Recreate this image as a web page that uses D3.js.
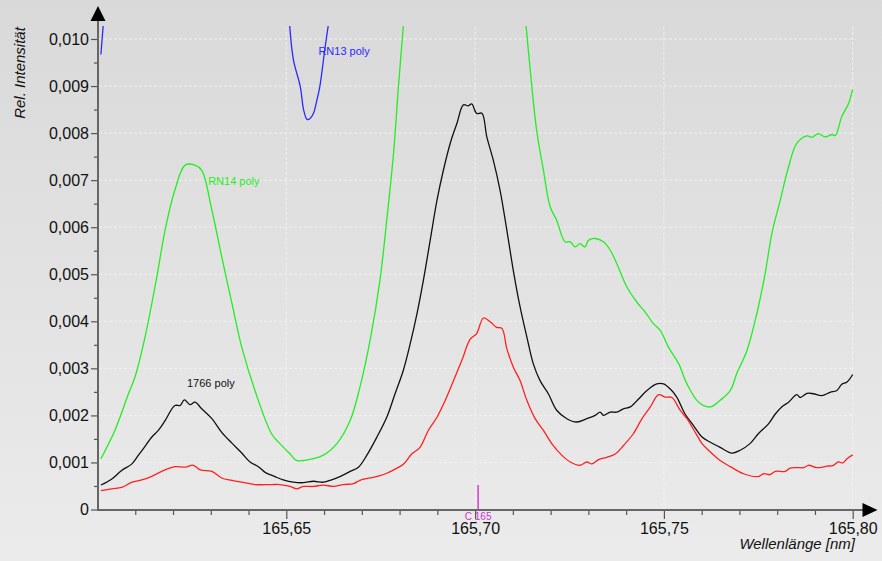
<!DOCTYPE html>
<html><head><meta charset="utf-8">
<script src="https://cdn.jsdelivr.net/npm/d3@7"></script>
<style>html,body{margin:0;padding:0;background:#e0e0e0;}svg{display:block;font-family:"Liberation Sans",Arial,sans-serif;}</style>
</head><body><svg id="c" width="882" height="561"></svg>
<script>
// ---- data (wavelength in nm, relative intensity) ----
const xTicks = [165.65, 165.70, 165.75, 165.80];
const xMinorTicks = [165.61,165.62,165.63,165.64,165.66,165.67,165.68,165.69,165.71,165.72,165.73,165.74,165.76,165.77,165.78,165.79];
const yTicks = [0,0.001,0.002,0.003,0.004,0.005,0.006,0.007,0.008,0.009,0.010];
const yMinorTicks = [0.0005,0.0015,0.0025,0.0035,0.0045,0.0055,0.0065,0.0075,0.0085,0.0095];

const rn13Wl  = [165.6009,165.6015,165.6300,165.6509,165.6519,165.6537,165.6546,165.6555,165.6563,165.6572,165.6581,165.6589,165.6603,165.6611];
const rn13Val = [0.00967,0.01028,null,0.01028,0.00955,0.00899,0.00849,0.00829,0.00831,0.00842,0.00870,0.00900,0.00984,0.01028];

const rn14Wl  = [165.6009,165.6046,165.6082,165.6099,165.6126,165.6157,165.6179,165.6205,165.6232,165.6258,165.6276,165.6303,165.6329,165.6356,165.6382,165.6417,165.6461,165.6483,165.6510,165.6528,165.6571,165.6597,165.6634,165.6669,165.6695,165.6722,165.6748,165.6766,165.6784,165.6797,165.6810,165.6970,165.7135,165.7146,165.7163,165.7181,165.7199,165.7216,165.7238,165.7252,165.7265,165.7278,165.7291,165.7300,165.7318,165.7340,165.7358,165.7375,165.7402,165.7428,165.7450,165.7472,165.7490,165.7512,165.7539,165.7561,165.7592,165.7623,165.7649,165.7676,165.7693,165.7720,165.7746,165.7768,165.7786,165.7808,165.7830,165.7852,165.7879,165.7892,165.7909,165.7927,165.7945,165.7954,165.7971,165.7989,165.8000];
const rn14Val = [0.00108,0.00168,0.00246,0.00281,0.00367,0.00494,0.00594,0.00679,0.00732,0.00732,0.00721,0.00636,0.00537,0.00438,0.00345,0.00253,0.00161,0.00140,0.00118,0.00104,0.00108,0.00115,0.00140,0.00189,0.00260,0.00360,0.00487,0.00615,0.00757,0.00899,0.01028,null,0.01028,0.00934,0.00806,0.00721,0.00643,0.00615,0.00569,0.00569,0.00558,0.00565,0.00558,0.00572,0.00576,0.00569,0.00551,0.00523,0.00473,0.00441,0.00420,0.00395,0.00381,0.00345,0.00310,0.00267,0.00228,0.00218,0.00232,0.00253,0.00289,0.00338,0.00416,0.00501,0.00587,0.00657,0.00728,0.00778,0.00794,0.00791,0.00799,0.00792,0.00797,0.00795,0.00835,0.00863,0.00893];

const s1766Wl  = [165.6009,165.6038,165.6064,165.6091,165.6108,165.6121,165.6144,165.6161,165.6179,165.6205,165.6219,165.6230,165.6245,165.6258,165.6276,165.6303,165.6329,165.6356,165.6382,165.6404,165.6426,165.6444,165.6470,165.6492,165.6519,165.6545,165.6572,165.6598,165.6620,165.6642,165.6669,165.6691,165.6713,165.6740,165.6766,165.6788,165.6810,165.6828,165.6846,165.6863,165.6881,165.6899,165.6916,165.6934,165.6952,165.6969,165.6982,165.6991,165.7004,165.7018,165.7031,165.7048,165.7066,165.7084,165.7101,165.7119,165.7137,165.7154,165.7172,165.7194,165.7216,165.7243,165.7269,165.7296,165.7318,165.7331,165.7340,165.7358,165.7375,165.7393,165.7411,165.7433,165.7455,165.7481,165.7499,165.7517,165.7534,165.7556,165.7578,165.7601,165.7623,165.7649,165.7680,165.7702,165.7728,165.7750,165.7777,165.7795,165.7812,165.7830,165.7852,165.7861,165.7879,165.7896,165.7918,165.7940,165.7958,165.7971,165.7985,165.8000];
const s1766Val = [0.00052,0.00065,0.00083,0.00097,0.00115,0.00129,0.00154,0.00168,0.00189,0.00221,0.00221,0.00233,0.00223,0.00228,0.00214,0.00193,0.00164,0.00141,0.00120,0.00101,0.00091,0.00079,0.00070,0.00063,0.00058,0.00057,0.00060,0.00058,0.00063,0.00070,0.00081,0.00090,0.00115,0.00154,0.00196,0.00246,0.00296,0.00352,0.00416,0.00487,0.00572,0.00657,0.00721,0.00778,0.00821,0.00860,0.00858,0.00862,0.00842,0.00842,0.00792,0.00743,0.00679,0.00594,0.00509,0.00431,0.00367,0.00310,0.00274,0.00246,0.00211,0.00193,0.00186,0.00193,0.00200,0.00207,0.00200,0.00207,0.00207,0.00214,0.00218,0.00235,0.00253,0.00267,0.00267,0.00256,0.00239,0.00203,0.00179,0.00154,0.00143,0.00132,0.00120,0.00126,0.00140,0.00161,0.00182,0.00203,0.00218,0.00228,0.00244,0.00238,0.00247,0.00246,0.00242,0.00249,0.00253,0.00266,0.00271,0.00287];

const redWl  = [165.6009,165.6038,165.6064,165.6091,165.6117,165.6139,165.6170,165.6205,165.6232,165.6254,165.6272,165.6303,165.6329,165.6356,165.6382,165.6417,165.6461,165.6483,165.6510,165.6528,165.6545,165.6572,165.6598,165.6625,165.6651,165.6678,165.6695,165.6722,165.6748,165.6766,165.6793,165.6810,165.6832,165.6854,165.6876,165.6899,165.6921,165.6943,165.6965,165.6987,165.7004,165.7022,165.7040,165.7057,165.7071,165.7084,165.7101,165.7119,165.7137,165.7159,165.7181,165.7203,165.7230,165.7252,165.7278,165.7296,165.7309,165.7327,165.7349,165.7371,165.7393,165.7419,165.7442,165.7464,165.7486,165.7503,165.7521,165.7543,165.7561,165.7583,165.7601,165.7623,165.7649,165.7676,165.7711,165.7750,165.7764,165.7781,165.7795,165.7821,165.7834,165.7852,165.7870,165.7883,165.7905,165.7932,165.7949,165.7962,165.7974,165.7985,165.8000];
const redVal = [0.00040,0.00044,0.00047,0.00058,0.00063,0.00069,0.00081,0.00091,0.00090,0.00094,0.00084,0.00081,0.00067,0.00062,0.00058,0.00053,0.00053,0.00053,0.00049,0.00044,0.00049,0.00049,0.00052,0.00049,0.00053,0.00055,0.00062,0.00067,0.00072,0.00077,0.00088,0.00096,0.00118,0.00132,0.00168,0.00196,0.00232,0.00274,0.00317,0.00362,0.00374,0.00407,0.00399,0.00387,0.00385,0.00342,0.00303,0.00274,0.00232,0.00193,0.00168,0.00140,0.00115,0.00101,0.00094,0.00101,0.00097,0.00106,0.00111,0.00118,0.00136,0.00161,0.00193,0.00218,0.00244,0.00239,0.00238,0.00211,0.00193,0.00164,0.00140,0.00122,0.00104,0.00091,0.00076,0.00070,0.00076,0.00074,0.00081,0.00081,0.00088,0.00089,0.00089,0.00094,0.00089,0.00092,0.00094,0.00101,0.00099,0.00108,0.00116];

const seriesNames  = ["RN13 poly","RN14 poly","1766 poly",""];
const markerWl = 165.7008;
const markerLabel = "C 165";

// ---- drawing ----
const svg = d3.select("#c");
const W = 882, H = 561;
const x = d3.scaleLinear().domain([165.60, 165.80]).range([97.5, 852.7]);
const y = d3.scaleLinear().domain([0, 0.010]).range([509.5, 39]);

const defs = svg.append("defs");
const grad = defs.append("linearGradient").attr("id","bg").attr("x1",0).attr("y1",0).attr("x2",0).attr("y2",1);
grad.append("stop").attr("offset","0%").attr("stop-color","#d9d9d9");
grad.append("stop").attr("offset","100%").attr("stop-color","#ebebeb");
defs.append("clipPath").attr("id","clip").append("rect")
  .attr("x", 97.5).attr("y", 26).attr("width", 757).attr("height", 484);

svg.append("rect").attr("width",W).attr("height",H).attr("fill","url(#bg)");

// grid
const grid = svg.append("g").attr("stroke","#f4f4f4").attr("stroke-width",1).attr("stroke-dasharray","3,2").attr("opacity",0.85);
grid.selectAll("line.h").data(yTicks.filter(d=>d>0)).join("line")
  .attr("x1", 99).attr("x2", 855).attr("y1", d=>y(d)).attr("y2", d=>y(d));
grid.selectAll("line.v").data(xTicks).join("line")
  .attr("x1", d=>x(d)).attr("x2", d=>x(d)).attr("y1", 27).attr("y2", 509);

// axes ticks
const fmtY = d => d === 0 ? "0" : d.toFixed(3).replace(".", ",");
const fmtX = d => d.toFixed(2).replace(".", ",");

const gy = svg.append("g").attr("transform","translate(98,0)")
  .call(d3.axisLeft(y).tickValues(yTicks).tickFormat(fmtY).tickSize(7).tickPadding(2));
const gyMinor = svg.append("g").attr("transform","translate(98,0)")
  .call(d3.axisLeft(y).tickValues(yMinorTicks).tickFormat("").tickSize(4));
const gx = svg.append("g").attr("transform","translate(0,510)")
  .call(d3.axisBottom(x).tickValues(xTicks).tickFormat(fmtX).tickSize(9).tickPadding(4));
const gxMinor = svg.append("g").attr("transform","translate(0,510)")
  .call(d3.axisBottom(x).tickValues(xMinorTicks).tickFormat("").tickSize(5));
[gy, gyMinor, gx, gxMinor].forEach(g => {
  g.select(".domain").remove();
  g.selectAll(".tick line").attr("stroke","#555").attr("stroke-width",1.2);
  g.selectAll(".tick text").attr("fill","#111").attr("font-size",16)
    .attr("font-family",'"Liberation Sans",Arial,sans-serif');
});

// series
const line = d3.line().defined(d => d[1] != null).x(d => x(d[0])).y(d => y(d[1]))
  .curve(d3.curveCatmullRom.alpha(0.5));
const plot = svg.append("g").attr("clip-path","url(#clip)");
const series = [
  {wl: rn13Wl, val: rn13Val, color: "#2a2aff"},
  {wl: rn14Wl, val: rn14Val, color: "#22ee22"},
  {wl: s1766Wl, val: s1766Val, color: "#111111"},
  {wl: redWl, val: redVal, color: "#ff2020"}
];
series.forEach(s => {
  plot.append("path").datum(s.wl.map((w,i)=>[w, s.val[i]]))
    .attr("fill","none").attr("stroke", s.color).attr("stroke-width",1.3)
    .attr("stroke-linejoin","round").attr("d", line);
});

// series labels
const labelPos = [[165.6585, 0.00975], [165.6293, 0.00698], [165.6237, 0.00268]];
labelPos.forEach((p,i) => {
  svg.append("text").attr("x", x(p[0])).attr("y", y(p[1])).attr("dy","0.35em")
    .attr("font-size",11).attr("fill", i===2 ? "#111" : series[i].color)
    .text(seriesNames[i]);
});

// axis lines with arrows
svg.append("line").attr("x1",98).attr("x2",98).attr("y1",510).attr("y2",20).attr("stroke","#666").attr("stroke-width",2);
svg.append("line").attr("x1",97).attr("x2",864).attr("y1",510).attr("y2",510).attr("stroke","#666").attr("stroke-width",2);
svg.append("path").attr("d","M98,6 L90.5,21 L105.5,21 Z").attr("fill","#000");
svg.append("path").attr("d","M877.5,510 L862.5,503 L862.5,517 Z").attr("fill","#000");

// marker
svg.append("line").attr("x1", x(markerWl)).attr("x2", x(markerWl)).attr("y1", 485).attr("y2", 510)
  .attr("stroke","#cc33cc").attr("stroke-width",1.4);
svg.append("text").attr("x", x(markerWl)).attr("y", 516).attr("dy","0.35em").attr("text-anchor","middle")
  .attr("font-size",10).attr("fill","#cc33cc").text(markerLabel);

// axis titles
svg.append("text").attr("transform","translate(25,73) rotate(-90)").attr("text-anchor","middle")
  .attr("font-size",15).attr("font-style","italic").attr("fill","#111").text("Rel. Intensität");
svg.append("text").attr("x",855).attr("y",549).attr("text-anchor","end")
  .attr("font-size",15).attr("font-style","italic").attr("fill","#111").text("Wellenlänge [nm]");
</script></body></html>
